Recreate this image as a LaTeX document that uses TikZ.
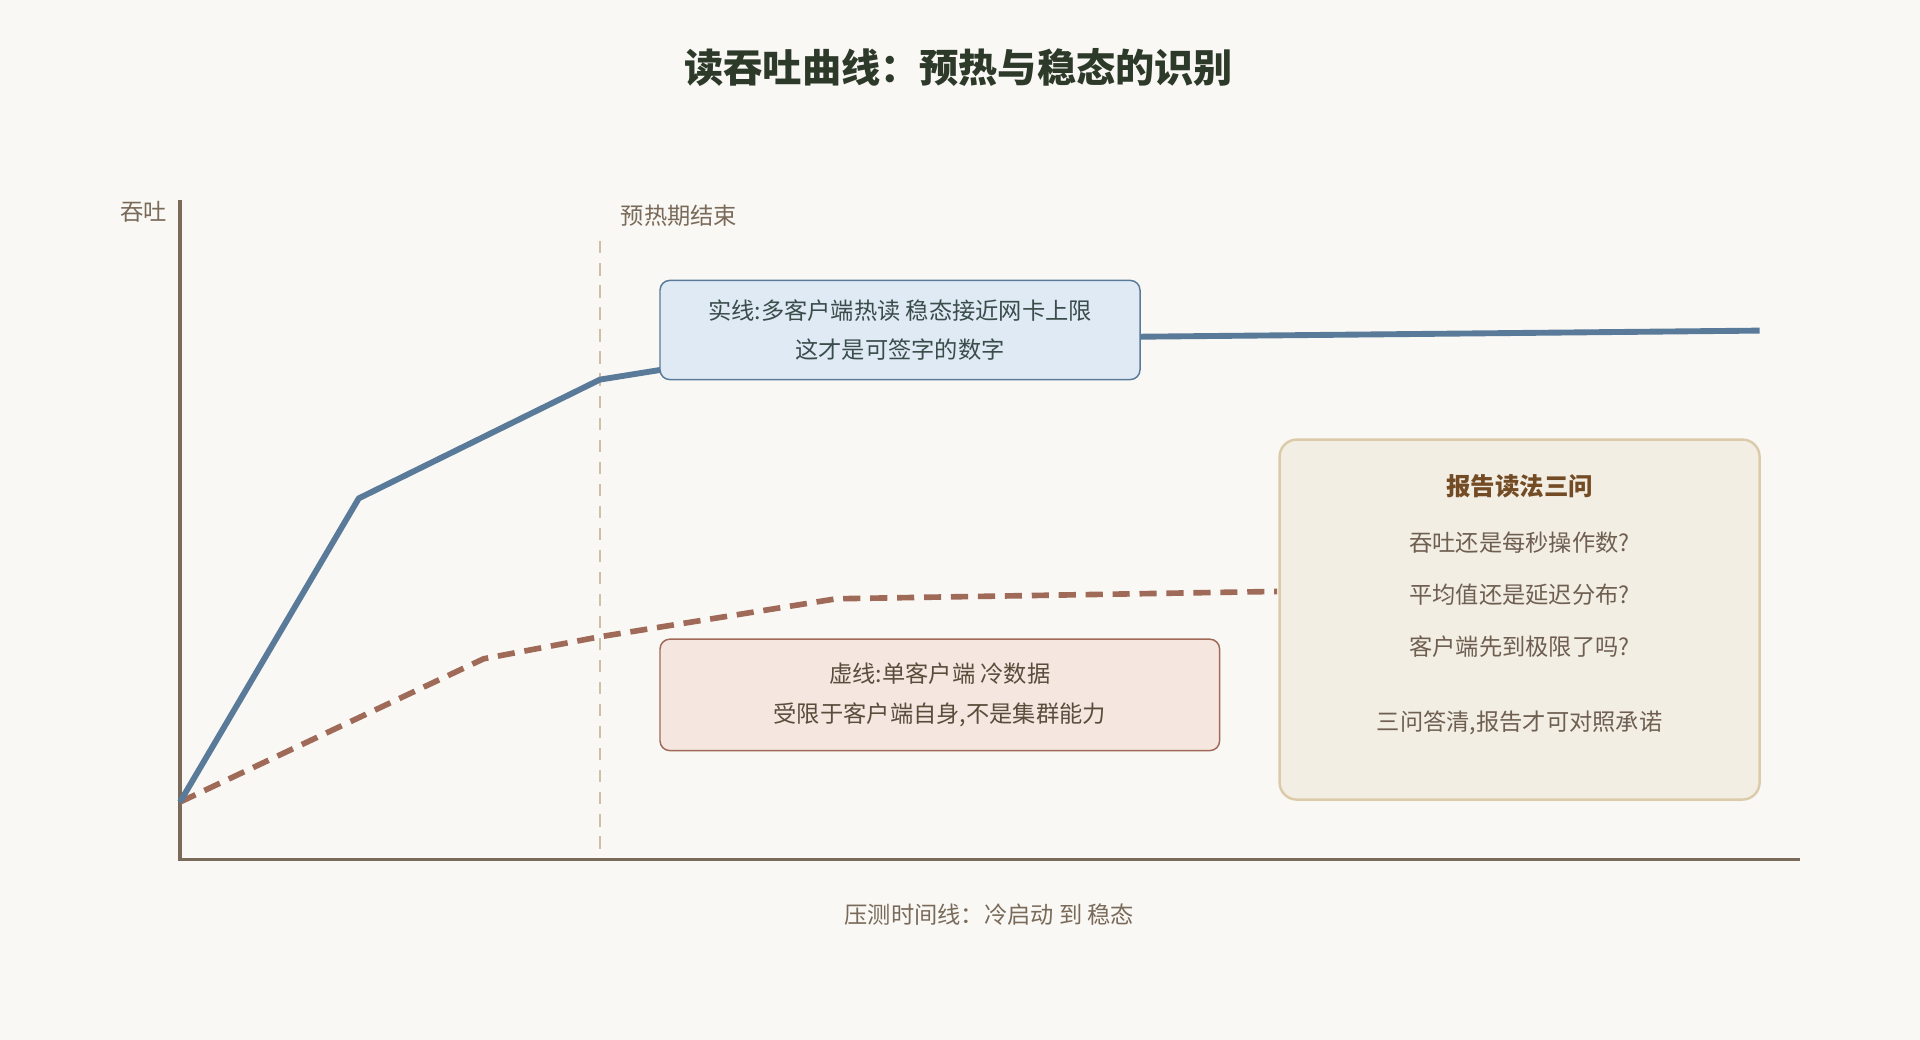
\documentclass[tikz,border=0pt]{standalone}
\usepackage{fontspec}
\setmainfont{Noto Sans CJK SC}
\usetikzlibrary{positioning}
\definecolor{bgc}{HTML}{F9F8F4}
\definecolor{axisc}{HTML}{7A6A5A}
\definecolor{bluec}{HTML}{5A7A9A}
\definecolor{bluef}{HTML}{DFEAF5}
\definecolor{redc}{HTML}{A06A58}
\definecolor{redf}{HTML}{F5E6E0}
\definecolor{tanc}{HTML}{DCCBAA}
\definecolor{tanf}{HTML}{F3EEE4}
\definecolor{titlec}{HTML}{2D3A2A}
\begin{document}
\begin{tikzpicture}[
  x=0.5pt, y=-0.5pt,
  axis/.style = {draw=axisc, line width=1.4pt},
  note/.style = {draw, rounded corners=4pt, line width=0.6pt, align=center, font=\fontsize{9.5}{16}\selectfont, inner sep=0pt},
  lbl/.style  = {text=axisc, font=\fontsize{9.5}{12}\selectfont},
  q/.style    = {text=axisc!90!black, font=\fontsize{9.5}{12}\selectfont}
]
  % canvas
  \fill[bgc] (0,0) rectangle (1568,849);
  \useasboundingbox (0,0) rectangle (1568,849);

  \node[text=titlec, font=\bfseries\fontsize{16}{20}\selectfont] (title) at (783,55) {读吞吐曲线：预热与稳态的识别};

  % axes
  \coordinate (origin) at (147,702);
  \coordinate (ytop) at (147,163);
  \coordinate (xend) at (1470,702);
  \draw[axis] (ytop) -- (origin) -- (xend);
  \node[lbl] (ylabel) at (117,173) {吞吐};
  \node[lbl] (xlabel) at (808,747) {压测时间线：冷启动 到 稳态};

  % warm-up marker
  \coordinate (wtop) at (490,197);
  \coordinate (wbot) at (490,695);
  \draw[draw=tanc!85!gray, line width=1.2pt, dash pattern=on 5pt off 4pt] (wtop) -- (wbot);
  \node[lbl, anchor=west] (wlabel) at (500,176) {预热期结束};

  % curves
  \draw[redc, line width=2.3pt, dash pattern=on 7pt off 4pt]
    (147,655) -- (395,538) -- (490,520) -- (683,489) -- (1043,483);
  \draw[bluec, line width=2.4pt, line join=round]
    (147,655) -- (293,407) -- (490,310) -- (540,302);
  \draw[bluec, line width=2.4pt] (930,275) -- (1437,270);

  % notes
  \node[note, draw=bluec, fill=bluef, text=titlec!70!bluec, minimum width=196pt, minimum height=40.5pt] (hot) at (735,269.5)
    {实线:多客户端热读 稳态接近网卡上限\\这才是可签字的数字};
  \node[note, draw=redc, fill=redf, text=titlec!60!redc, minimum width=228.5pt, minimum height=45.5pt] (cold) at (767.5,567.5)
    {虚线:单客户端 冷数据\\受限于客户端自身,不是集群能力};

  % reading checklist
  \node[draw=tanc, fill=tanf, rounded corners=7pt, line width=1pt, minimum width=196pt, minimum height=147pt] (panel) at (1241,506) {};
  \node[text=HTML, font=\bfseries\fontsize{10}{12}\selectfont, text=brown!60!black] (ptitle) at (1241,397) {报告读法三问};
  \node[q] (q1) at (1241,443) {吞吐还是每秒操作数?};
  \node[q] (q2) at (1241,486) {平均值还是延迟分布?};
  \node[q] (q3) at (1241,528) {客户端先到极限了吗?};
  \node[q] (qend) at (1241,590) {三问答清,报告才可对照承诺};
\end{tikzpicture}
\end{document}
